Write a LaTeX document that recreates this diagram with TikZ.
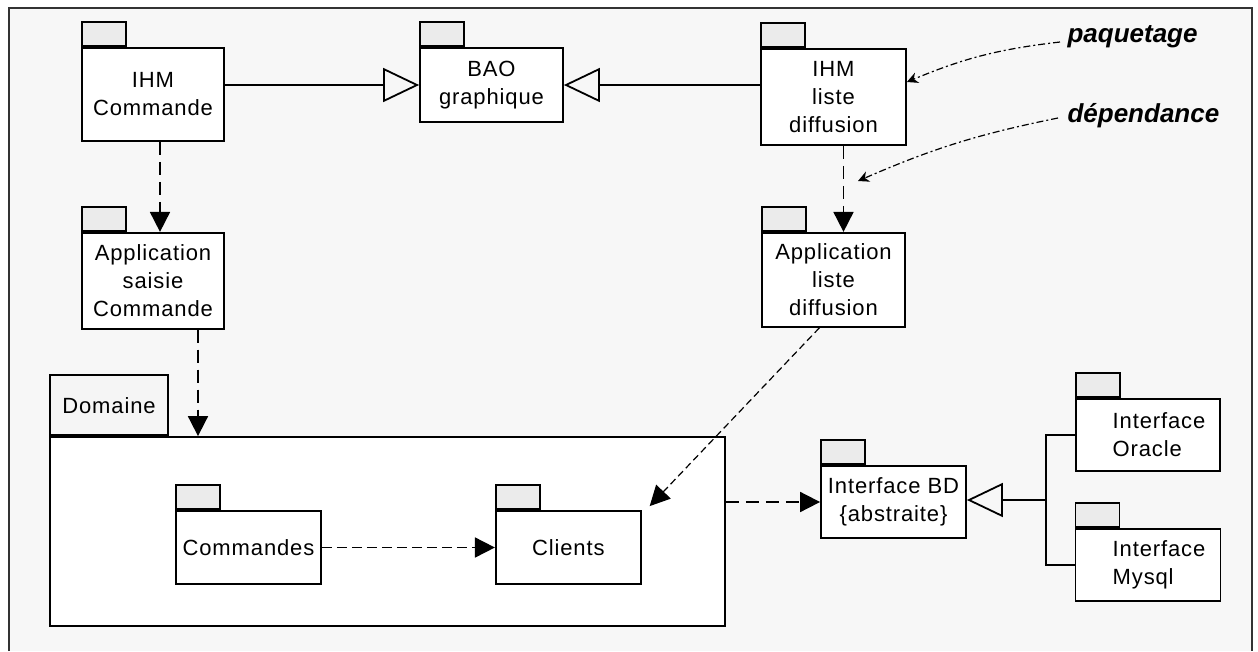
\documentclass[tikz,border=0pt]{standalone}
\usepackage{fontspec}
\setmainfont[LetterSpace=4]{Liberation Sans}
\newfontfamily\notefont{Liberation Sans}
\usetikzlibrary{arrows.meta, positioning}

\begin{document}
\begin{tikzpicture}[
  x=1pt, y=-1pt,
  font=\fontsize{22}{28}\selectfont,
  pkg/.style={draw, line width=1.8pt, fill=white, align=center, inner sep=0pt},
  tab/.style={draw, line width=1.8pt, fill=black!8, minimum width=44pt, minimum height=24pt, inner sep=0pt},
  dep/.style={-{Triangle[length=20pt, width=20pt]}, line width=1.8pt, dash pattern=on 13pt off 7pt},
  gen/.style={-{Triangle[open, length=36pt, width=34pt]}, line width=1.8pt},
  note/.style={-{Stealth[length=11pt, width=11pt]}, line width=1.2pt, dash pattern=on 7pt off 3pt on 2pt off 3pt},
  notetxt/.style={font=\notefont\fontsize{26}{30}\selectfont\bfseries\itshape}
]
\useasboundingbox (0,0) rectangle (1258,651);
\fill[black!3] (9,8) rectangle (1252,651);
\draw[line width=2pt, black!80] (9,651) -- (9,8) -- (1252,8) -- (1252,651);
% packages
\node[pkg, minimum width=142pt, minimum height=93pt] (ihmc) at (153,94.5) {IHM\\Commande};
\node[pkg, minimum width=143pt, minimum height=74pt] (bao) at (491.5,85) {BAO\\graphique};
\node[pkg, minimum width=145pt, minimum height=96pt] (ihml) at (833.5,97) {IHM\\liste\\diffusion};
\node[pkg, minimum width=142pt, minimum height=96pt, below=90pt of ihmc] (apps) {Application\\saisie\\Commande};
\node[pkg, minimum width=143pt, minimum height=94pt, below=86pt of ihml] (appl) {Application\\liste\\diffusion};
\node[pkg, minimum width=675pt, minimum height=189pt] (dom) at (387.5,531.5) {};
\node[tab, minimum width=118pt, minimum height=60pt, fill=black!4, above right=0pt and 0pt of dom.north west] (dom-tab) {Domaine};
\node[pkg, minimum width=145pt, minimum height=73pt] (cmd) at (248.5,547.5) {Commandes};
\node[pkg, minimum width=145pt, minimum height=73pt, right=173pt of cmd] (cli) {Clients};
\node[pkg, minimum width=145pt, minimum height=72pt] (ibd) at (893.5,502) {Interface BD\\\{abstraite\}};
\node[pkg, minimum width=144pt, minimum height=72pt, align=left] (ora) at (1148,435) {\hspace*{22pt}Interface\\\hspace*{22pt}Oracle};
\node[pkg, minimum width=145pt, minimum height=72pt, align=left, below=56pt of ora] (mys) {\hspace*{22pt}Interface\\\hspace*{22pt}Mysql};
\foreach \n in {ihmc, bao, ihml, apps, appl, cmd, cli, ibd, ora, mys}
  \node[tab, above right=0pt and 0pt of \n.north west] (\n-tab) {};
% links
\draw[gen] (ihmc.east |- bao.west) -- (bao.west);
\draw[gen] (ihml.west |- bao.east) -- (bao.east);
\draw[dep] ([xshift=7pt]ihmc.south) -- ([xshift=7pt]apps.north);
\draw[dep] ([xshift=10pt]ihml.south) -- ([xshift=10pt]ihml.south |- appl.north);
\draw[dep] ([xshift=45pt]apps.south) -- ([xshift=45pt]apps.south |- dom.north);
\draw[dep, dash pattern=on 10pt off 5pt] (cmd) -- (cli);
\draw[dep] (dom.east |- ibd.west) -- (ibd.west);
\draw[dep, line width=1.2pt, dash pattern=on 7pt off 4pt] ([xshift=-14pt]appl.south) -- ([shift={(8,-4)}]cli.north east);
\coordinate (join) at (1046,500);
\draw[line width=1.8pt] (ora.west) -| (join) |- (mys.west);
\draw[gen] (join) -- (join -| ibd.east);
% notes
\node[notetxt, anchor=base west] (paq) at (1064,42) {paquetage};
\node[notetxt, anchor=base west] (dpd) at (1064,122) {dépendance};
\coordinate (dpd-tip) at (858,181);
\draw[note] ([xshift=-4pt]paq.base west) to[bend right=8] ([yshift=15pt]ihml.east);
\draw[note] ([xshift=-6pt, yshift=4pt]dpd.base west) to[bend right=6] (dpd-tip);
\end{tikzpicture}
\end{document}
